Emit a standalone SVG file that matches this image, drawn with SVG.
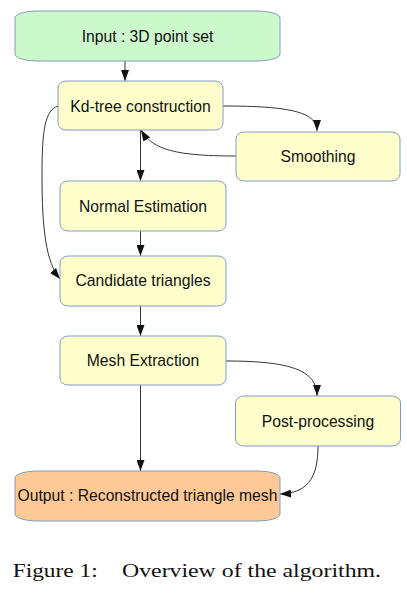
<svg xmlns="http://www.w3.org/2000/svg" width="407" height="593" viewBox="0 0 407 593">
<style>
.box{stroke:#7f9cc4;stroke-width:1}
.y{fill:#ffffcc}
.g{fill:#ccf9cc}
.o{fill:#fec996}
.lbl{font-family:"Liberation Sans",Arial,sans-serif;font-size:15.7px;fill:#111;text-anchor:middle}
.c{fill:none;stroke:#333;stroke-width:1}
.cap{font-family:"Liberation Serif","Times New Roman",serif;font-size:19px;fill:#111}
</style>
<defs>
<marker id="ah" markerUnits="userSpaceOnUse" markerWidth="11" markerHeight="8" refX="11" refY="4" orient="auto">
<path d="M0,0 L11,4 L0,8 Z" fill="#111"/>
</marker>
</defs>
<rect width="407" height="593" fill="#fff"/>
<g id="connectors">
<path class="c" d="M125,61 L125,81" marker-end="url(#ah)"/>
<path class="c" d="M223,106 C290,106 317,112 317,131" marker-end="url(#ah)"/>
<path class="c" d="M236,156 C170,156 152,148 141,130" marker-end="url(#ah)"/>
<path class="c" d="M140.5,130 L140.5,181" marker-end="url(#ah)"/>
<path class="c" d="M140.5,231 L140.5,256" marker-end="url(#ah)"/>
<path class="c" d="M58,106 C45,110 42,130 42,175 C42,230 46,262 60,279" marker-end="url(#ah)"/>
<path class="c" d="M140.5,306 L140.5,336" marker-end="url(#ah)"/>
<path class="c" d="M226,361 C290,361 317,370 317,396" marker-end="url(#ah)"/>
<path class="c" d="M140.5,385 L140.5,471" marker-end="url(#ah)"/>
<path class="c" d="M318,446 C318,480 306,493 280,494" marker-end="url(#ah)"/>
</g>
<g id="input">
<rect class="box g" x="15" y="11" width="265" height="50" rx="22" ry="7"/>
<text class="lbl" x="147.5" y="41.5">Input : 3D point set</text>
</g>
<g id="kdtree">
<rect class="box y" x="58" y="81" width="165" height="49" rx="8" ry="7"/>
<text class="lbl" x="140.5" y="111.5">Kd-tree construction</text>
</g>
<g id="smoothing">
<rect class="box y" x="236" y="132" width="164" height="49" rx="8" ry="7"/>
<text class="lbl" x="318" y="161.5">Smoothing</text>
</g>
<g id="normal">
<rect class="box y" x="60" y="181" width="166" height="50" rx="8" ry="7"/>
<text class="lbl" x="143" y="211.5">Normal Estimation</text>
</g>
<g id="candidate">
<rect class="box y" x="60" y="256" width="166" height="50" rx="8" ry="7"/>
<text class="lbl" x="143" y="286">Candidate triangles</text>
</g>
<g id="mesh">
<rect class="box y" x="60" y="336" width="166" height="49" rx="8" ry="7"/>
<text class="lbl" x="143" y="366">Mesh Extraction</text>
</g>
<g id="post">
<rect class="box y" x="235.5" y="396" width="165" height="50" rx="8" ry="7"/>
<text class="lbl" x="318" y="426.5">Post-processing</text>
</g>
<g id="output">
<rect class="box o" x="15" y="471" width="265" height="50" rx="22" ry="7"/>
<text class="lbl" x="147.5" y="500.5">Output : Reconstructed triangle mesh</text>
</g>
<g id="caption">
<text class="cap" x="12.7" y="576.7" textLength="85" lengthAdjust="spacingAndGlyphs">Figure 1:</text>
<text class="cap" x="122" y="576.7" textLength="259" lengthAdjust="spacingAndGlyphs">Overview of the algorithm.</text>
</g>
</svg>
